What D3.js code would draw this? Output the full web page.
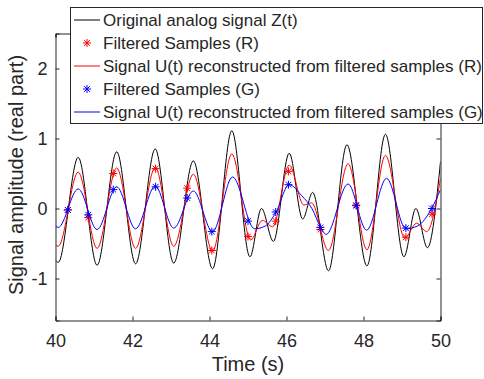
<!DOCTYPE html>
<html>
<head>
<meta charset="utf-8">
<script src="https://cdn.jsdelivr.net/npm/d3@7"></script>
<style>
  body { margin: 0; background: #fff; }
  text { font-family: "Liberation Sans", Arial, sans-serif; fill: #262626; }
</style>
</head>
<body>
<script>
// original analog signal Z(t): extrema
let zT = [40.0, 40.07, 40.59, 41.08, 41.59, 42.08, 42.59, 43.07, 43.58, 44.08, 44.58, 45.05, 45.35, 45.66, 46.07, 46.42, 46.68, 47.09, 47.57, 48.09, 48.57, 49.05, 49.36, 49.66, 50.0];
let zV = [-0.74, -0.77, 0.73, -0.81, 0.81, -0.79, 0.85, -0.78, 0.68, -0.86, 1.11, -0.69, 0.0, -0.47, 0.79, -0.15, 0.23, -0.89, 0.91, -0.82, 1.06, -0.69, 0.0, -0.56, 0.67];

// U(t) reconstructed from filtered samples (R)
let rT = [40.0, 40.07, 40.59, 41.08, 41.59, 42.08, 42.59, 43.07, 43.58, 44.08, 44.58, 45.07, 45.37, 45.64, 46.07, 46.45, 46.65, 47.09, 47.6, 48.09, 48.57, 49.07, 49.38, 49.64, 50.0];
let rV = [-0.52, -0.54, 0.52, -0.57, 0.58, -0.57, 0.59, -0.54, 0.49, -0.61, 0.78, -0.45, -0.17, -0.26, 0.62, 0.05, 0.08, -0.60, 0.64, -0.59, 0.76, -0.42, -0.21, -0.33, 0.43];

// U(t) reconstructed from filtered samples (G)
let gT = [40.0, 40.07, 40.59, 41.08, 41.59, 42.08, 42.59, 43.07, 43.58, 44.08, 44.6, 45.17, 45.45, 45.72, 46.07, 46.4, 46.66, 46.88, 47.03, 47.6, 48.08, 48.6, 49.1, 49.4, 49.77, 50.0];
let gV = [-0.25, -0.27, 0.28, -0.30, 0.31, -0.29, 0.32, -0.28, 0.25, -0.33, 0.45, -0.29, -0.25, -0.06, 0.34, 0.18, 0.0, -0.26, -0.37, 0.35, -0.31, 0.43, -0.29, -0.25, 0.0, 0.27];

// filtered samples
let sampT = [40.32, 40.85, 41.5, 42.6, 43.42, 44.06, 45.0, 45.72, 46.05, 46.88, 47.81, 49.1, 49.78];
let sampR = [-0.02, -0.13, 0.50, 0.57, 0.29, -0.60, -0.40, -0.18, 0.53, -0.30, 0.05, -0.41, -0.08];
let sampG = [-0.02, -0.09, 0.27, 0.31, 0.15, -0.33, -0.18, -0.05, 0.34, -0.27, 0.04, -0.28, 0.0];

let xTicks = [40, 42, 44, 46, 48, 50];
let yTicks = [-1, 0, 1, 2];
let legendLabels = [
    "Original analog signal Z(t)",
    "Filtered Samples (R)",
    "Signal U(t) reconstructed from filtered samples (R)",
    "Filtered Samples (G)",
    "Signal U(t) reconstructed from filtered samples (G)"
];

let width = 484, height = 379;
let plotLeft = 55.5, plotRight = 440.5, plotTop = 33.5, plotBottom = 320.5;
let axisColor = "#262626";

let svg = d3.select("body").append("svg")
    .attr("width", width)
    .attr("height", height);

let x = d3.scaleLinear().domain([40, 50]).range([plotLeft, plotRight]);
let y = d3.scaleLinear().domain([-1.6, 2.5]).range([plotBottom, plotTop]);

svg.append("clipPath").attr("id", "clip")
    .append("rect")
    .attr("x", plotLeft).attr("y", plotTop)
    .attr("width", plotRight - plotLeft).attr("height", plotBottom - plotTop);

let line = d3.line()
    .x((d) => x(d[0]))
    .y((d) => y(d[1]))
    .curve(d3.curveMonotoneX);

function star(size) {
    let d = size * 0.72;
    return `M${-size},0H${size}M0,${-size}V${size}M${-d},${-d}L${d},${d}M${-d},${d}L${d},${-d}`;
}

let plot = svg.append("g").attr("clip-path", "url(#clip)");

// draw in legend order
plot.append("path")
    .datum(d3.zip(zT, zV))
    .attr("d", line)
    .attr("fill", "none")
    .attr("stroke", "#000")
    .attr("stroke-width", 1);

plot.selectAll(".sr")
    .data(d3.zip(sampT, sampR))
    .enter()
        .append("path")
        .attr("class", "sr")
        .attr("transform", (d) => `translate(${x(d[0])},${y(d[1])})`)
        .attr("d", star(4))
        .attr("stroke", "#ff0000")
        .attr("stroke-width", 1);

plot.append("path")
    .datum(d3.zip(rT, rV))
    .attr("d", line)
    .attr("fill", "none")
    .attr("stroke", "#ff0000")
    .attr("stroke-width", 1);

plot.selectAll(".sg")
    .data(d3.zip(sampT, sampG))
    .enter()
        .append("path")
        .attr("class", "sg")
        .attr("transform", (d) => `translate(${x(d[0])},${y(d[1])})`)
        .attr("d", star(4))
        .attr("stroke", "#0000ff")
        .attr("stroke-width", 1);

plot.append("path")
    .datum(d3.zip(gT, gV))
    .attr("d", line)
    .attr("fill", "none")
    .attr("stroke", "#0000ff")
    .attr("stroke-width", 1);

// axes, box style with inward ticks
let tickLen = 4;
let xAxis = d3.axisBottom(x).tickValues(xTicks).tickSize(-tickLen).tickPadding(14).tickFormat(d3.format("d"));
let xTop = d3.axisTop(x).tickValues(xTicks).tickSize(-tickLen).tickFormat("");
let yAxis = d3.axisLeft(y).tickValues(yTicks).tickSize(-tickLen).tickPadding(8).tickFormat((d) => d < 0 ? "-" + Math.abs(d) : d);
let yRight = d3.axisRight(y).tickValues(yTicks).tickSize(-tickLen).tickFormat("");

function style(g) {
    g.select(".domain").attr("stroke", axisColor);
    g.selectAll(".tick line").attr("stroke", axisColor);
    g.selectAll(".tick text").attr("fill", axisColor)
        .style("font-family", "'Liberation Sans', Arial, sans-serif")
        .style("font-size", "18px");
}

svg.append("g").attr("transform", `translate(0,${plotTop})`).call(xTop).call(style);
svg.append("g").attr("transform", `translate(${plotRight},0)`).call(yRight).call(style);
svg.append("g").attr("transform", `translate(0,${plotBottom})`).call(xAxis).call(style);
svg.append("g").attr("transform", `translate(${plotLeft},0)`).call(yAxis).call(style);

svg.append("text")
    .attr("x", (plotLeft + plotRight) / 2)
    .attr("y", 371)
    .attr("text-anchor", "middle")
    .style("font-size", "20px")
    .text("Time (s)");

svg.append("text")
    .attr("transform", `translate(23,175) rotate(-90)`)
    .attr("text-anchor", "middle")
    .style("font-size", "20px")
    .text("Signal amplitude (real part)");

// legend
let legend = svg.append("g");
legend.append("rect")
    .attr("x", 70.5).attr("y", 7.5)
    .attr("width", 412).attr("height", 116)
    .attr("fill", "#fff")
    .attr("stroke", axisColor)
    .attr("stroke-width", 1);

let legendKinds = [["line", "#000"], ["star", "#ff0000"], ["line", "#ff0000"], ["star", "#0000ff"], ["line", "#0000ff"]];

legendLabels.forEach((label, i) => {
    let cy = 20 + i * 23;
    let kind = legendKinds[i];
    if (kind[0] === "line") {
        legend.append("line")
            .attr("x1", 74).attr("x2", 100)
            .attr("y1", cy).attr("y2", cy)
            .attr("stroke", kind[1])
            .attr("stroke-width", 1);
    } else {
        legend.append("path")
            .attr("transform", `translate(87,${cy})`)
            .attr("d", star(4))
            .attr("stroke", kind[1])
            .attr("stroke-width", 1);
    }
    legend.append("text")
        .attr("x", 103)
        .attr("y", cy)
        .attr("dy", "0.35em")
        .style("font-size", "17px")
        .attr("fill", "#000")
        .text(label);
});
</script>
</body>
</html>
